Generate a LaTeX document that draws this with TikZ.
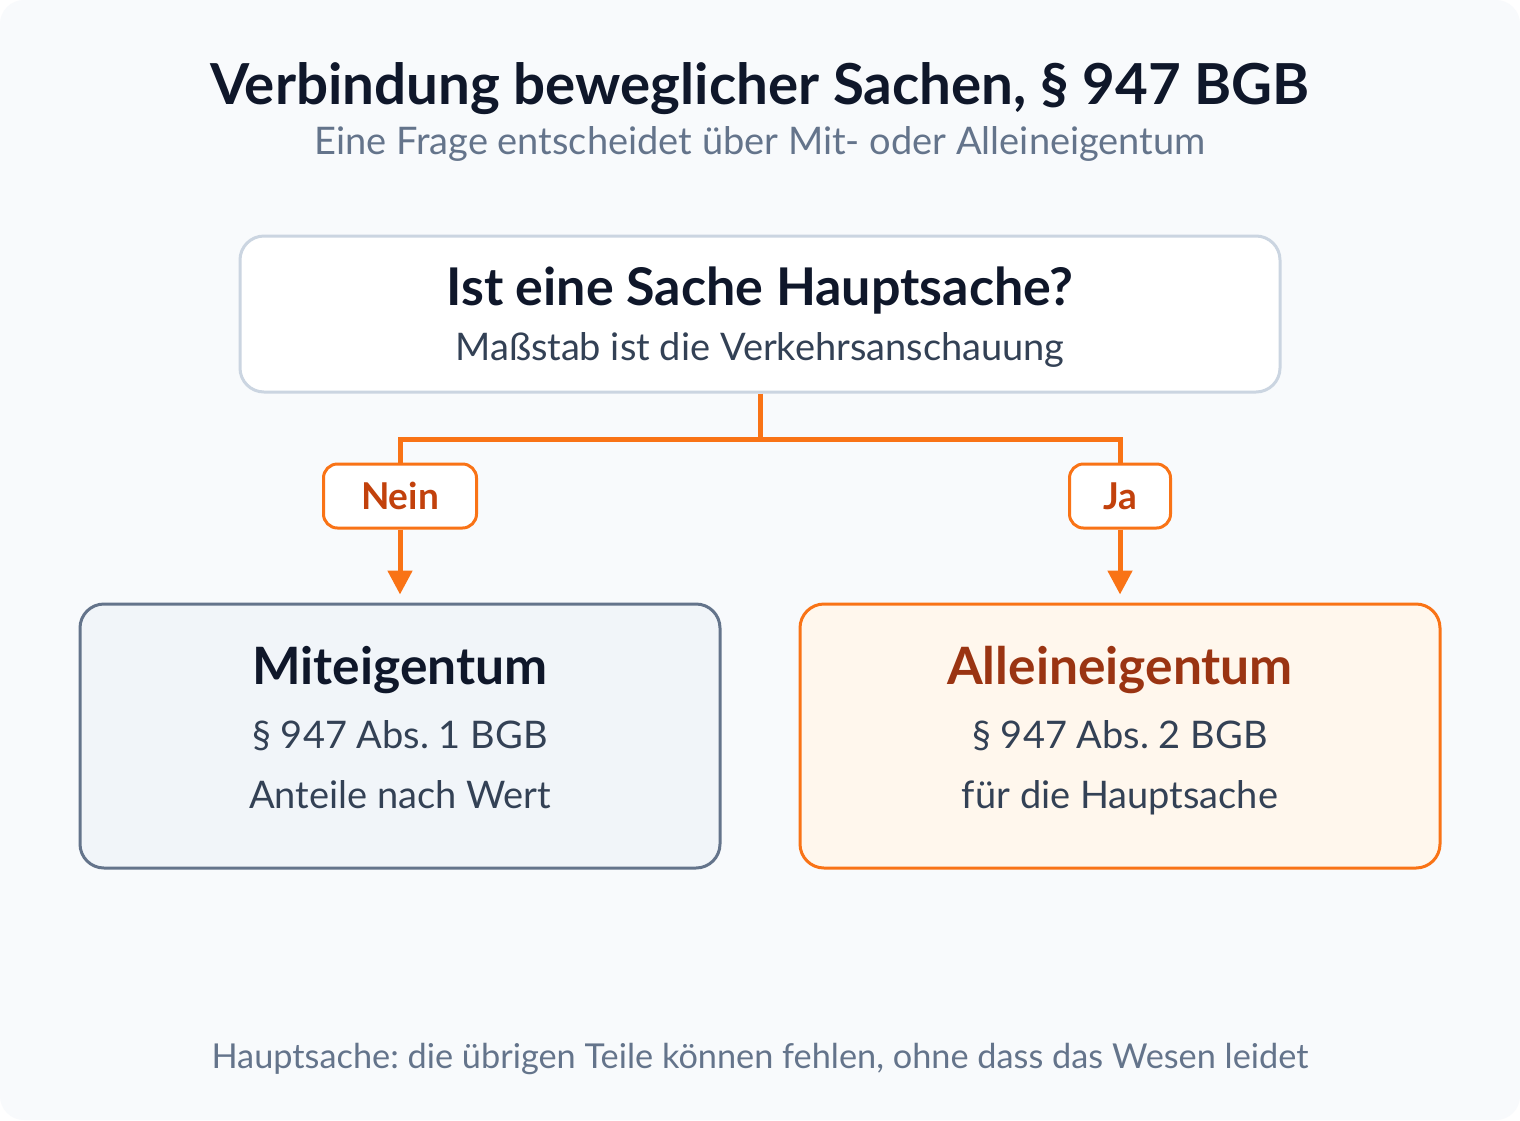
\documentclass[tikz,border=0pt]{standalone}
\usepackage{fontspec}
\setmainfont{Lato}
\usetikzlibrary{arrows.meta}
\frenchspacing

\definecolor{pagebg}{HTML}{F8FAFC}
\definecolor{ink}{HTML}{0F172A}
\definecolor{body}{HTML}{334155}
\definecolor{muted}{HTML}{64748B}
\definecolor{frame}{HTML}{CBD5E1}
\definecolor{accent}{HTML}{F97316}
\definecolor{accentdark}{HTML}{C2410C}
\definecolor{rust}{HTML}{9A3412}
\definecolor{slatefill}{HTML}{F1F5F9}
\definecolor{orangefill}{HTML}{FFF7ED}

\tikzset{
	card/.style = {draw, line width = 3pt, rounded corners = 24pt, inner sep = 0pt},
	tag/.style = {draw = accent, fill = white, line width = 3pt, rounded corners = 14pt,
		minimum height = 64pt, inner sep = 0pt,
		text = accentdark, font = \fontsize{37}{44}\selectfont\bfseries},
	link/.style = {accent, line width = 5pt},
	txt/.style = {anchor = base, inner sep = 0pt},
	line/.style = {txt, text = body, font = \fontsize{38}{46}\selectfont},
}

\begin{document}
\frenchspacing
\begin{tikzpicture}[x = 1pt, y = -1pt, > = {Triangle[width = 24pt, length = 24pt]}]

	% Background
	\fill [white] (0, 0) rectangle (1520, 1120);
	\fill [pagebg, rounded corners = 24pt] (0, 0) rectangle (1520, 1120);

	% Heading
	\node [txt, text = ink, font = \fontsize{56.5}{66}\selectfont\bfseries] (title) at (760, 104) {Verbindung beweglicher Sachen, § 947 BGB};
	\node [txt, text = muted, font = \fontsize{38}{46}\selectfont] (subtitle) at (760, 154) {Eine Frage entscheidet über Mit- oder Alleineigentum};

	% The question
	\node [card, draw = frame, fill = white, minimum width = 1040pt, minimum height = 156pt] (question) at (760, 314) {};
	\node [txt, text = ink, font = \fontsize{52}{60}\selectfont\bfseries] (question-head) at (760, 305) {Ist eine Sache Hauptsache?};
	\node [line] (question-note) at (760, 360) {Maßstab ist die Verkehrsanschauung};

	% The two outcomes
	\node [card, draw = muted, fill = slatefill, minimum width = 640pt, minimum height = 264pt] (co-owner) at (400, 736) {};
	\node [txt, text = ink, font = \fontsize{51.5}{60}\selectfont\bfseries] (co-owner-head) at (400, 684) {Miteigentum};
	\node [line] (co-owner-law) at (400, 748) {§ 947 Abs. 1 BGB};
	\node [line] (co-owner-note) at (400, 808) {Anteile nach Wert};

	\node [card, draw = accent, fill = orangefill, minimum width = 640pt, minimum height = 264pt] (sole-owner) at (1120, 736) {};
	\node [txt, text = rust, font = \fontsize{51.5}{60}\selectfont\bfseries] (sole-owner-head) at (1120, 684) {Alleineigentum};
	\node [line] (sole-owner-law) at (1120, 748) {§ 947 Abs. 2 BGB};
	\node [line] (sole-owner-note) at (1120, 808) {für die Hauptsache};

	% Branches
	\coordinate (fork) at (760, 439);
	\draw [link] (question.south) -- (fork);
	\draw [link] (fork) -| (400, 464) coordinate (nein-top);
	\draw [link] (fork) -| (1120, 464) coordinate (ja-top);

	\node [tag, minimum width = 153pt] (nein) at (400, 496) {Nein};
	\node [tag, minimum width = 101pt] (ja) at (1120, 496) {Ja};

	\begin{scope}[link, ->, shorten > = 8pt]
		\draw (nein.south) -- (co-owner.north);
		\draw (ja.south) -- (sole-owner.north);
	\end{scope}

	% Footnote
	\node [txt, text = muted, font = \fontsize{34.3}{40}\selectfont] (footnote) at (760, 1068) {Hauptsache: die übrigen Teile können fehlen, ohne dass das Wesen leidet};

\end{tikzpicture}
\end{document}
